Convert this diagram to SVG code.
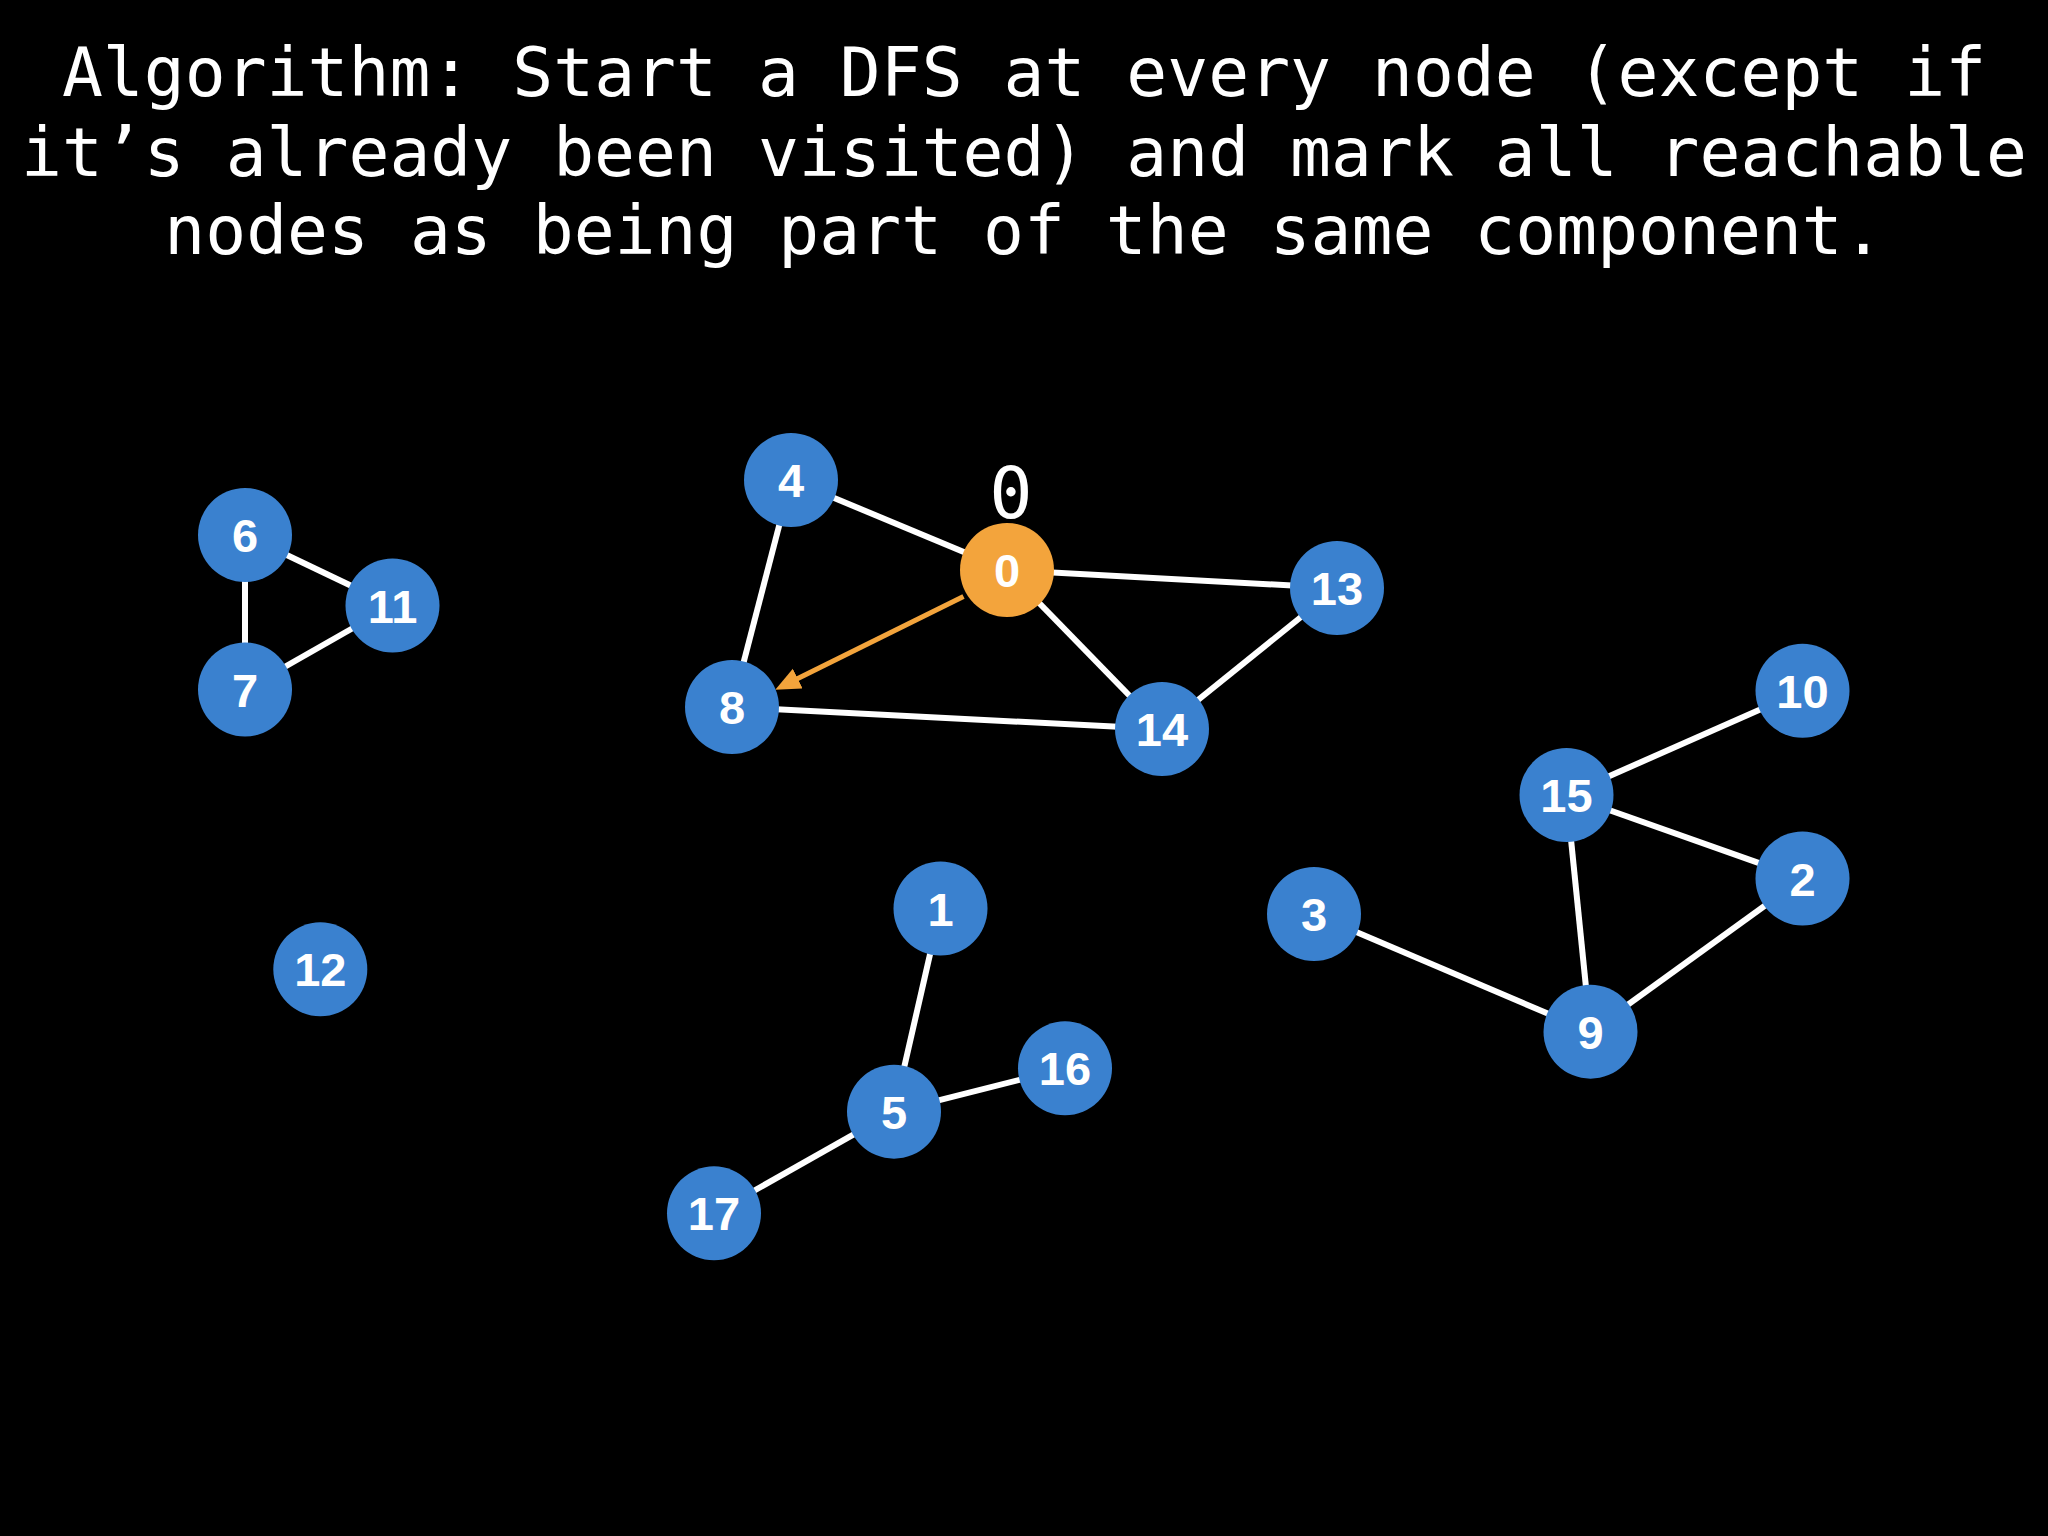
<svg xmlns="http://www.w3.org/2000/svg" width="2048" height="1536" viewBox="0 0 2048 1536">
<defs>
<style>
.title{font-family:"DejaVu Sans Mono","Liberation Mono",monospace;font-size:68px;fill:#fff;text-anchor:middle}
.mark{font-family:"DejaVu Sans Mono","Liberation Mono",monospace;font-size:72px;fill:#fff;text-anchor:middle}
.node circle{fill:#3a81cf}
.node.cur circle{fill:#f3a43c}
.node text{font-family:"Liberation Sans",Arial,sans-serif;font-weight:bold;font-size:47px;fill:#fff;text-anchor:middle}
.edge{stroke:#fff;stroke-width:6}
.arrow{stroke:#f3a43c;stroke-width:5;fill:none}
</style>
<marker id="ah" markerUnits="userSpaceOnUse" markerWidth="26" markerHeight="24" refX="1" refY="11" orient="auto">
<path d="M0,0 L25,11 L0,22 z" fill="#f3a43c"/>
</marker>
</defs>
<rect width="2048" height="1536" fill="#000"/>
<text class="title" x="1024" y="96">Algorithm: Start a DFS at every node (except if</text>
<text class="title" x="1024" y="176">it’s already been visited) and mark all reachable</text>
<text class="title" x="1024" y="254">nodes as being part of the same component.</text>
<g id="connectors">
<line class="edge" x1="245" y1="535" x2="392.5" y2="605.5"/>
<line class="edge" x1="245" y1="535" x2="245" y2="689.5"/>
<line class="edge" x1="245" y1="689.5" x2="392.5" y2="605.5"/>
<line class="edge" x1="791" y1="480" x2="1007" y2="570"/>
<line class="edge" x1="791" y1="480" x2="732" y2="707"/>
<line class="edge" x1="1007" y1="570" x2="1337" y2="588"/>
<line class="edge" x1="1007" y1="570" x2="1162" y2="729"/>
<line class="edge" x1="1337" y1="588" x2="1162" y2="729"/>
<line class="edge" x1="732" y1="707" x2="1162" y2="729"/>
<line class="edge" x1="1802.5" y1="690.8" x2="1566.5" y2="795"/>
<line class="edge" x1="1566.5" y1="795" x2="1802.5" y2="878.5"/>
<line class="edge" x1="1566.5" y1="795" x2="1590.5" y2="1031.7"/>
<line class="edge" x1="1802.5" y1="878.5" x2="1590.5" y2="1031.7"/>
<line class="edge" x1="1314" y1="914" x2="1590.5" y2="1031.7"/>
<line class="edge" x1="940.5" y1="908.5" x2="894" y2="1111.7"/>
<line class="edge" x1="894" y1="1111.7" x2="1065" y2="1068.3"/>
<line class="edge" x1="894" y1="1111.7" x2="714" y2="1213.3"/>
<line class="arrow" x1="963.5" y1="596.5" x2="796.8" y2="679" marker-end="url(#ah)"/>
</g>
<text class="mark" x="1011" y="518">0</text>
<g id="node-0" class="node cur"><circle cx="1007" cy="570" r="47"/><text x="1007" y="587">0</text></g>
<g id="node-1" class="node"><circle cx="940.5" cy="908.5" r="47"/><text x="940.5" y="925.5">1</text></g>
<g id="node-2" class="node"><circle cx="1802.5" cy="878.5" r="47"/><text x="1802.5" y="895.5">2</text></g>
<g id="node-3" class="node"><circle cx="1314" cy="914" r="47"/><text x="1314" y="931">3</text></g>
<g id="node-4" class="node"><circle cx="791" cy="480" r="47"/><text x="791" y="497">4</text></g>
<g id="node-5" class="node"><circle cx="894" cy="1111.7" r="47"/><text x="894" y="1128.7">5</text></g>
<g id="node-6" class="node"><circle cx="245" cy="535" r="47"/><text x="245" y="552">6</text></g>
<g id="node-7" class="node"><circle cx="245" cy="689.5" r="47"/><text x="245" y="706.5">7</text></g>
<g id="node-8" class="node"><circle cx="732" cy="707" r="47"/><text x="732" y="724">8</text></g>
<g id="node-9" class="node"><circle cx="1590.5" cy="1031.7" r="47"/><text x="1590.5" y="1048.7">9</text></g>
<g id="node-10" class="node"><circle cx="1802.5" cy="690.8" r="47"/><text x="1802.5" y="707.8">10</text></g>
<g id="node-11" class="node"><circle cx="392.5" cy="605.5" r="47"/><text x="392.5" y="622.5">11</text></g>
<g id="node-12" class="node"><circle cx="320.3" cy="969.3" r="47"/><text x="320.3" y="986.3">12</text></g>
<g id="node-13" class="node"><circle cx="1337" cy="588" r="47"/><text x="1337" y="605">13</text></g>
<g id="node-14" class="node"><circle cx="1162" cy="729" r="47"/><text x="1162" y="746">14</text></g>
<g id="node-15" class="node"><circle cx="1566.5" cy="795" r="47"/><text x="1566.5" y="812">15</text></g>
<g id="node-16" class="node"><circle cx="1065" cy="1068.3" r="47"/><text x="1065" y="1085.3">16</text></g>
<g id="node-17" class="node"><circle cx="714" cy="1213.3" r="47"/><text x="714" y="1230.3">17</text></g>
</svg>
